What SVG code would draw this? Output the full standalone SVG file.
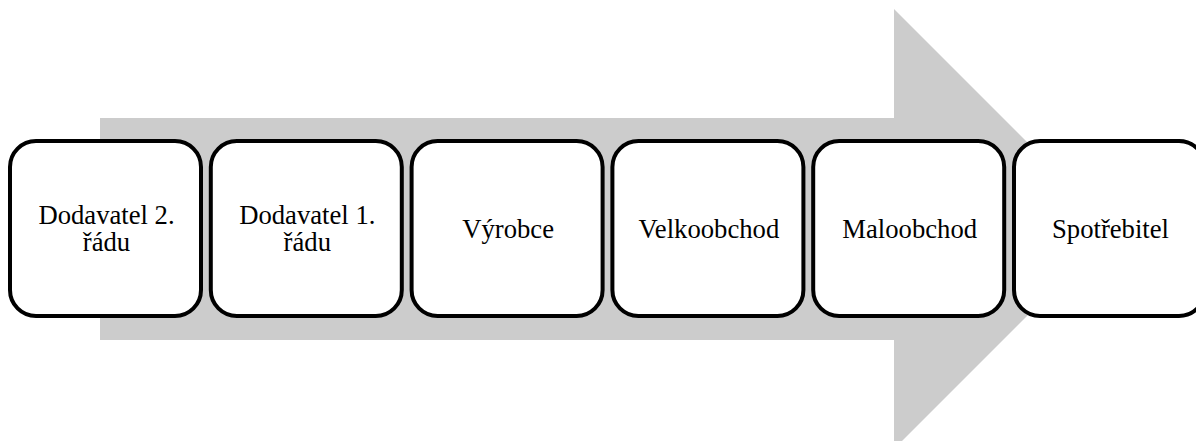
<svg xmlns="http://www.w3.org/2000/svg" width="1196" height="441" viewBox="0 0 1196 441">
  <style>
    .box { fill: #ffffff; stroke: #000000; stroke-width: 4; }
    .lbl { fill: #000000; text-anchor: middle; font-family: "Liberation Serif", "Times New Roman", serif; font-size: 26.67px; }
  </style>
  <rect width="1196" height="441" fill="#ffffff"/>
  <!-- background flow arrow -->
  <g id="connectors">
    <polygon points="100,118 894,118 894,9 1114,229 894,449 894,340 100,340" fill="#cccccc"/>
  </g>
  <g id="node-dodavatel2">
    <rect class="box" x="10" y="141" width="191" height="175" rx="26" ry="26"/>
    <text class="lbl" x="106.5" y="224">Dodavatel 2.</text>
    <text class="lbl" x="106.5" y="251">řádu</text>
  </g>
  <g id="node-dodavatel1">
    <rect class="box" x="210.8" y="141" width="191" height="175" rx="26" ry="26"/>
    <text class="lbl" x="307.3" y="224">Dodavatel 1.</text>
    <text class="lbl" x="307.3" y="251">řádu</text>
  </g>
  <g id="node-vyrobce">
    <rect class="box" x="411.6" y="141" width="191" height="175" rx="26" ry="26"/>
    <text class="lbl" x="508.1" y="238">Výrobce</text>
  </g>
  <g id="node-velkoobchod">
    <rect class="box" x="612.4" y="141" width="191" height="175" rx="26" ry="26"/>
    <text class="lbl" x="708.9" y="238">Velkoobchod</text>
  </g>
  <g id="node-maloobchod">
    <rect class="box" x="813.2" y="141" width="191" height="175" rx="26" ry="26"/>
    <text class="lbl" x="909.7" y="238">Maloobchod</text>
  </g>
  <g id="node-spotrebitel">
    <rect class="box" x="1014" y="141" width="191" height="175" rx="26" ry="26"/>
    <text class="lbl" x="1110.5" y="238">Spotřebitel</text>
  </g>
</svg>
